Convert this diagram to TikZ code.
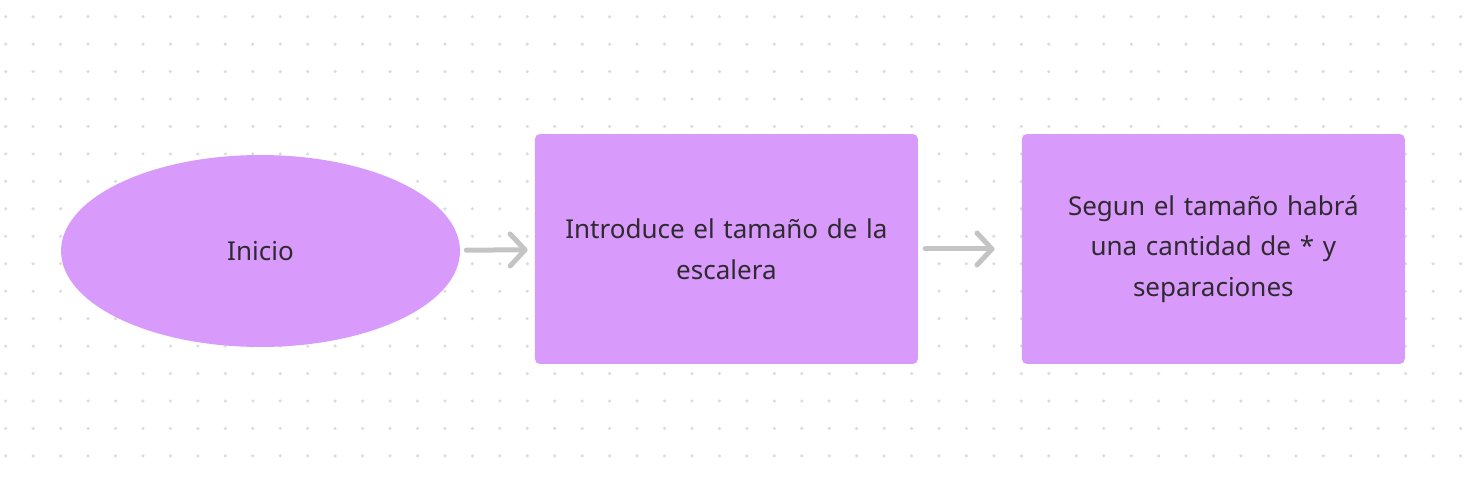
\documentclass[tikz,border=0pt]{standalone}
\usepackage{fontspec}
\setmainfont{Noto Sans}
\usetikzlibrary{shapes.geometric,arrows.meta}
\definecolor{boxfill}{HTML}{D99BFB}
\definecolor{textcol}{HTML}{2E2A30}
\definecolor{arrowcol}{HTML}{C4C4C4}
\definecolor{dotcol}{HTML}{DCDCDC}

\begin{document}
\begin{tikzpicture}[x=0.02cm,y=-0.02cm,
    stepnode/.style={fill=boxfill,text=textcol,font=\fontsize{14.8}{23.2}\selectfont,align=center},
    startnode/.style={stepnode,ellipse,minimum width=7.98cm,minimum height=3.84cm,inner sep=0pt},
    boxnode/.style={stepnode,rectangle,rounded corners=0.1cm,minimum width=7.66cm,minimum height=4.6cm,text width=7.2cm},
    flow/.style={arrowcol,line width=0.1cm,line cap=round,-{Straight Barb[length=0.3cm,width=0.64cm,round]}}]
      \useasboundingbox[fill=white] (0,0) rectangle (1483,479);
      % dot grid
      \foreach \i in {0,...,53}
        \foreach \j in {0,...,16}
          \fill[dotcol] (5.7+27.45*\i,16.7+27.45*\j) circle (0.035cm);

      \node[startnode] (1) at (260.5,251) {Inicio};
      \node[boxnode,right of=1,node distance=9.32cm,yshift=0.04cm] (2) {Introduce el tamaño de la\\escalera};
      \node[boxnode,right of=2,node distance=9.74cm] (3) {Segun el tamaño habrá\\una cantidad de * y\\separaciones};

      \draw[flow,shorten <=0.12cm,shorten >=0.14cm] (1) -- (2);
      \draw[flow,shorten <=0.14cm,shorten >=0.54cm] (2) -- (3);
    \end{tikzpicture}
\end{document}
